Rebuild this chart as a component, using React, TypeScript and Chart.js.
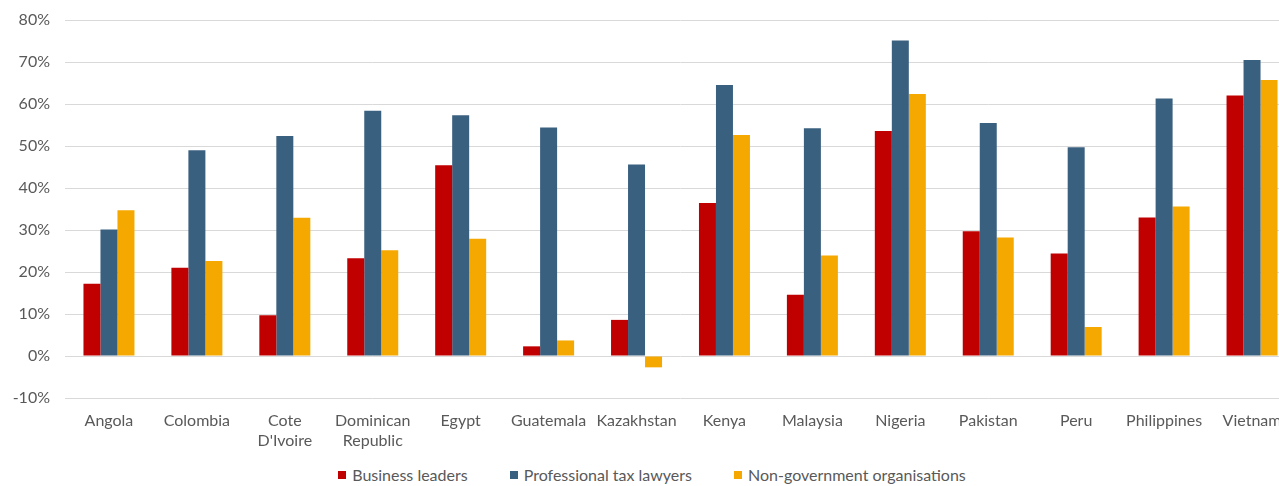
import React, { useEffect, useRef } from "react";
import { Chart, registerables } from "chart.js";

Chart.register(...registerables);

// Survey respondents by country, share in percent
const countries: (string | string[])[] = [
  "Angola",
  "Colombia",
  ["Cote", "D'Ivoire"],
  ["Dominican", "Republic"],
  "Egypt",
  "Guatemala",
  "Kazakhstan",
  "Kenya",
  "Malaysia",
  "Nigeria",
  "Pakistan",
  "Peru",
  "Philippines",
  "Vietnam",
];

const businessLeaders = [17.2, 21.0, 9.7, 23.3, 45.4, 2.3, 8.6, 36.4, 14.6, 53.6, 29.7, 24.4, 33.0, 62.0];
const taxLawyers = [30.1, 49.0, 52.4, 58.4, 57.3, 54.4, 45.6, 64.5, 54.2, 75.1, 55.5, 49.7, 61.3, 70.5];
const ngos = [34.7, 22.6, 32.9, 25.2, 27.9, 3.7, -2.7, 52.6, 23.9, 62.4, 28.2, 6.9, 35.6, 65.7];

const seriesNames = ["Business leaders", "Professional tax lawyers", "Non-government organisations"];
const seriesColors = ["#C00000", "#3A6080", "#F5A800"];

const yMin = -10;
const yMax = 80;
const yStep = 10;

const FONT = "Lato, 'Open Sans', sans-serif";
const TEXT = "#595959";

export default function App() {
  const canvasRef = useRef<HTMLCanvasElement | null>(null);

  useEffect(() => {
    if (!canvasRef.current) return;
    const chart = new Chart(canvasRef.current, {
      type: "bar",
      data: {
        labels: countries,
        datasets: [businessLeaders, taxLawyers, ngos].map((values, i) => ({
          label: seriesNames[i],
          data: values,
          backgroundColor: seriesColors[i],
          borderWidth: 0,
          barPercentage: 1,
          categoryPercentage: 0.58,
        })),
      },
      options: {
        responsive: false,
        animation: false,
        layout: { padding: { top: 20, right: 8, left: 0, bottom: 0 } },
        plugins: {
          legend: { display: false },
          tooltip: { enabled: false },
        },
        scales: {
          x: {
            grid: { display: false, drawTicks: false },
            border: { display: false },
            ticks: {
              autoSkip: false,
              maxRotation: 0,
              minRotation: 0,
              padding: 13,
              color: TEXT,
              font: { family: FONT, size: 16, lineHeight: 1.25 },
            },
            afterFit: (scale: any) => {
              scale.height = 52;
            },
          },
          y: {
            min: yMin,
            max: yMax,
            grid: {
              color: "#D9D9D9",
              lineWidth: 1,
              drawTicks: true,
              tickLength: 15,
              tickColor: "rgba(0,0,0,0)",
            },
            border: { display: false },
            ticks: {
              stepSize: yStep,
              padding: 0,
              color: TEXT,
              font: { family: FONT, size: 16 },
              callback: (v: any) => `${v}%`,
            },
            afterFit: (scale: any) => {
              scale.width = 65;
            },
          },
        },
      },
    });
    return () => chart.destroy();
  }, []);

  return (
    <div
      style={{
        position: "fixed",
        left: 0,
        top: 0,
        width: 1279,
        height: 486,
        overflow: "hidden",
        background: "#fff",
      }}
    >
      <div style={{ position: "absolute", left: 0, top: 0, width: 1304, height: 486 }}>
        <canvas ref={canvasRef} width={1304} height={450} style={{ display: "block" }} />
        <div
          style={{
            position: "absolute",
            left: 0,
            top: 465,
            width: 1304,
            display: "flex",
            justifyContent: "center",
            gap: 42,
            fontFamily: FONT,
            fontSize: 16,
            lineHeight: "20px",
            color: TEXT,
          }}
        >
          {seriesNames.map((name, i) => (
            <span key={name} style={{ display: "flex", alignItems: "center", gap: 6 }}>
              <span style={{ width: 8, height: 8, background: seriesColors[i], display: "inline-block" }} />
              {name}
            </span>
          ))}
        </div>
      </div>
    </div>
  );
}
